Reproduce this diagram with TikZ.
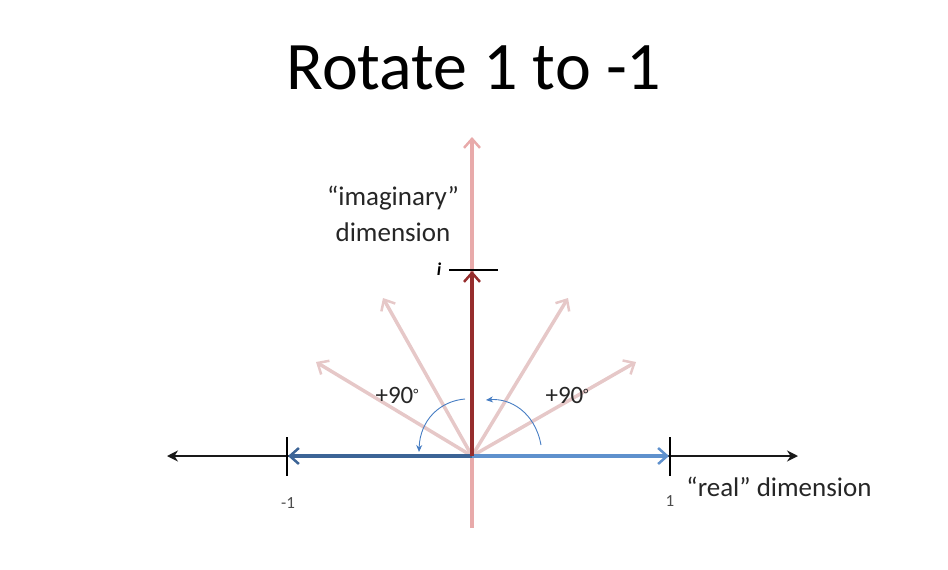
\documentclass[tikz,border=0pt]{standalone}
\usepackage{fontspec}
\setmainfont{Carlito}
\usetikzlibrary{arrows.meta}
\definecolor{axpink}{RGB}{232,170,170}
\definecolor{darkred}{RGB}{150,45,45}
\definecolor{fade}{RGB}{230,200,200}
\definecolor{blueL}{RGB}{60,100,150}
\definecolor{blueR}{RGB}{95,145,205}
\definecolor{arcblue}{RGB}{70,125,195}
\begin{document}
\begin{tikzpicture}[x=1pt,y=-1pt,
  lbl/.style={font=\fontsize{27}{36}\selectfont, inner sep=0pt, text=black!85},
  deg/.style={font=\fontsize{25}{30}\selectfont, inner sep=0pt, text=black!85},
  small/.style={font=\fontsize{17}{20}\selectfont, inner sep=0pt, text=black!70},
  barb/.style={-{Straight Barb[length=9pt,width=16pt,line width=2.5pt]}},
  faded/.style={fade, line width=3.5pt, barb},
  tickline/.style={black, line width=2pt},
  arcline/.style={arcblue, line width=0.9pt, -{Stealth[length=7pt,width=6pt]}}]
\useasboundingbox (0,0) rectangle (948,570);
\coordinate (O) at (472,456);
% title
\node (title) at (474,68) {\fontsize{68}{78}\selectfont Rotate 1 to -1};
% vertical pink axis
\coordinate (vbot) at (472,528);
\coordinate (vtop) at (472,137);
\draw[axpink, line width=3.5pt, barb] (vbot) -- (vtop);
% faded arrows
\coordinate (f30) at (636,362);
\coordinate (f60) at (568,298);
\coordinate (f120) at (383,298);
\coordinate (f150) at (316,362);
\draw[faded] (O) -- (f30);
\draw[faded] (O) -- (f60);
\draw[faded] (O) -- (f120);
\draw[faded] (O) -- (f150);
% black horizontal axis
\coordinate (hl) at (167,456);
\coordinate (hr) at (798,456);
\draw[black!90, line width=2.5pt, -{Stealth[length=11pt,width=11pt]}] (O) -- (hl);
\draw[black!90, line width=2.5pt, -{Stealth[length=11pt,width=11pt]}] (O) -- (hr);
% ticks
\coordinate (tm1a) at (287,437); \coordinate (tm1b) at (287,476);
\coordinate (tp1a) at (670,437); \coordinate (tp1b) at (670,476);
\draw[tickline] (tm1a) -- (tm1b);
\draw[tickline] (tp1a) -- (tp1b);
% blue arrows
\coordinate (bm1) at (288,456);
\coordinate (bp1) at (669,456);
\draw[blueL, line width=4pt, barb] (O) -- (bm1);
\draw[blueR, line width=4pt, barb] (O) -- (bp1);
% dark red i arrow
\coordinate (ti) at (472,271);
\draw[darkred, line width=3.5pt, barb] (O) -- (ti);
\coordinate (tia) at (449,270); \coordinate (tib) at (498,270);
\draw[tickline] (tia) -- (tib);
% arcs
\coordinate (ra) at (541,445);
\coordinate (rb) at (486,400);
\draw[arcline] (ra) .. controls (535,412) and (510,398) .. (rb);
\coordinate (la) at (465,399);
\coordinate (lb) at (419,452);
\draw[arcline] (la) .. controls (440,401) and (420,420) .. (lb);
% labels
\node[deg] (p90l) at (397,395) {+90\raisebox{0.15em}{\fontsize{15}{15}\selectfont\textdegree}};
\node[deg] (p90r) at (567,395) {+90\raisebox{0.15em}{\fontsize{15}{15}\selectfont\textdegree}};
\node[lbl, align=center] (imag) at (393,214) {“imaginary”\\dimension};
\node[font=\fontsize{18}{20}\selectfont\bfseries\itshape, inner sep=0pt] (ilab) at (439,269) {i};
\node[small] (lm1) at (288,503) {-1};
\node[small] (lp1) at (670,501) {1};
\node[lbl] (real) at (779,487) {“real” dimension};
\end{tikzpicture}
\end{document}
